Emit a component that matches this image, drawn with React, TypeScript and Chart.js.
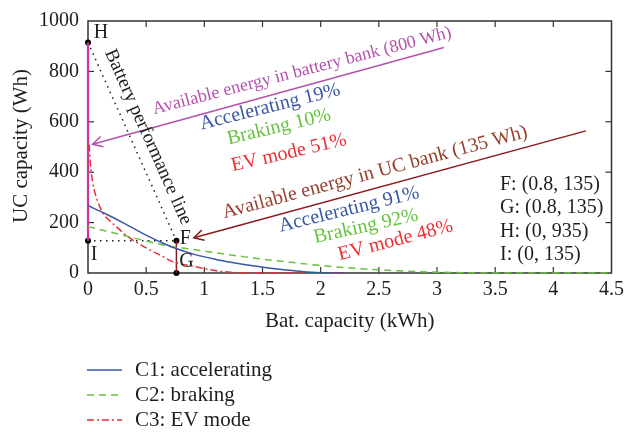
import React, { useEffect, useRef } from 'react';
import { Chart, registerables } from 'chart.js';

Chart.register(...registerables);

const FF = "'Liberation Serif', 'Times New Roman', serif";

// Series C1: accelerating
const c1X = [0, 0.15, 0.32, 0.49, 0.66, 0.75, 0.92, 1.1, 1.24, 1.4, 1.52, 1.7, 1.85, 2.0, 2.1, 2.2];
const c1Y = [267, 235, 195, 152, 115, 98, 73, 54, 42, 30, 22, 12, 5, 1, 0, 0];
// Series C2: braking
const c2X = [0, 0.15, 0.32, 0.49, 0.66, 0.83, 0.92, 1.1, 1.35, 1.52, 1.81, 2.09, 2.38, 2.66, 2.94, 3.17, 3.4, 4.5];
const c2Y = [184, 167, 148, 128, 110, 98, 92, 80, 64, 54, 39, 26, 16, 9, 4, 1.5, 0, 0];
// Series C3: EV mode
const c3X = [0.01, 0.02, 0.04, 0.06, 0.08, 0.1, 0.125, 0.18, 0.24, 0.35, 0.49, 0.64, 0.72, 0.8, 0.92, 1.05, 1.15, 1.25, 1.35, 2.2];
const c3Y = [510, 435, 360, 318, 288, 265, 240, 210, 185, 142, 102, 66, 46, 36, 25, 13, 6, 2, 0, 0];

const seriesNames = ['C1: accelerating', 'C2: braking', 'C3: EV mode'];

// Marked points H, F, G, I
const ptNames = ['H', 'F', 'G', 'I'];
const ptX = [0, 0.76, 0.76, 0];
const ptY = [915, 128, 0, 128];

// Arrows (tail -> tip)
const batArrowX = [3.06, 0.04];
const batArrowY = [895, 511];
const ucArrowX = [4.28, 0.91];
const ucArrowY = [564, 140];

const infoLines = ['F: (0.8, 135)', 'G: (0.8, 135)', 'H: (0, 935)', 'I: (0, 135)'];

const xMin = 0, xMax = 4.5, xStep = 0.5;
const yMin = 0, yMax = 1000, yStep = 200;

const BLUE = '#3A56A6';
const GREEN = '#66C23F';
const RED = '#EC2F35';
const MAGENTA_TXT = '#B451AC';
const MAGENTA_LINE = '#C8339E';
const BROWN_TXT = '#96402C';
const DARKRED = '#8A1A1E';
const INK = '#1E1E1E';

const pts = (xs: number[], ys: number[]) => xs.map((x, i) => ({ x, y: ys[i] }));
const fmt = (v: any) => String(Math.round(Number(v) * 10) / 10);

function App() {
  const ref = useRef<HTMLCanvasElement | null>(null);

  useEffect(() => {
    const canvas = ref.current;
    if (!canvas) return;

    const rotText = (ctx: CanvasRenderingContext2D, text: string, x: number, y: number, deg: number, color: string, size: number, baseline: CanvasTextBaseline = 'middle', align: CanvasTextAlign = 'center') => {
      ctx.save();
      ctx.translate(x, y);
      ctx.rotate((deg * Math.PI) / 180);
      ctx.fillStyle = color;
      ctx.font = `${size}px ${FF}`;
      ctx.textAlign = align;
      ctx.textBaseline = baseline;
      ctx.fillText(text, 0, 0);
      ctx.restore();
    };

    const arrow = (ctx: CanvasRenderingContext2D, x1: number, y1: number, x2: number, y2: number, color: string) => {
      ctx.save();
      ctx.strokeStyle = color;
      ctx.lineWidth = 1.5;
      ctx.setLineDash([]);
      ctx.beginPath();
      ctx.moveTo(x1, y1);
      ctx.lineTo(x2, y2);
      ctx.stroke();
      const a = Math.atan2(y2 - y1, x2 - x1);
      const L = 11, h = 0.5;
      ctx.beginPath();
      ctx.moveTo(x2 - L * Math.cos(a - h), y2 - L * Math.sin(a - h));
      ctx.lineTo(x2, y2);
      ctx.lineTo(x2 - L * Math.cos(a + h), y2 - L * Math.sin(a + h));
      ctx.stroke();
      ctx.restore();
    };

    const deco = {
      id: 'deco',
      beforeDatasetsDraw(chart: any) {
        const { ctx, chartArea, scales } = chart;
        const { left, right, top, bottom } = chartArea;
        const xs = scales.x, ys = scales.y;
        ctx.save();
        ctx.strokeStyle = '#333';
        ctx.lineWidth = 1.5;
        ctx.setLineDash([]);
        ctx.strokeRect(left, top, right - left, bottom - top);
        ctx.lineWidth = 1.2;
        const seg = (a: number, b: number, c: number, d: number) => {
          ctx.beginPath(); ctx.moveTo(a, b); ctx.lineTo(c, d); ctx.stroke();
        };
        xs.ticks.forEach((t: any) => {
          const p = xs.getPixelForValue(t.value);
          if (p <= left + 1 || p >= right - 1) return;
          seg(p, bottom, p, bottom - 6);
          seg(p, top, p, top + 6);
        });
        ys.ticks.forEach((t: any) => {
          const p = ys.getPixelForValue(t.value);
          if (p <= top + 1 || p >= bottom - 1) return;
          seg(left, p, left + 6, p);
          seg(right, p, right - 6, p);
        });
        ctx.restore();
      },
      afterDatasetsDraw(chart: any) {
        const { ctx, chartArea, scales } = chart;
        const xs = scales.x, ys = scales.y;
        const px = (v: number) => xs.getPixelForValue(v);
        const py = (v: number) => ys.getPixelForValue(v);

        // arrows
        arrow(ctx, px(batArrowX[0]), py(batArrowY[0]), px(batArrowX[1]), py(batArrowY[1]), MAGENTA_TXT);
        arrow(ctx, px(ucArrowX[0]), py(ucArrowY[0]), px(ucArrowX[1]), py(ucArrowY[1]), DARKRED);

        // upper annotation group
        rotText(ctx, 'Available energy in battery bank (800 Wh)', 302, 71, -14.5, MAGENTA_TXT, 18);
        rotText(ctx, 'Accelerating 19%', 270, 107, -14, BLUE, 20);
        rotText(ctx, 'Braking 10%', 279, 127, -13.5, GREEN, 20);
        rotText(ctx, 'EV mode 51%', 289, 153, -13, RED, 20);

        // lower annotation group
        rotText(ctx, 'Available energy in UC bank (135 Wh)', 375, 172.5, -15, BROWN_TXT, 20);
        rotText(ctx, 'Accelerating 91%', 349, 209.5, -13.7, BLUE, 20);
        rotText(ctx, 'Braking 92%', 366, 226.5, -12.5, GREEN, 20);
        rotText(ctx, 'EV mode 48%', 395.5, 240.5, -14.5, RED, 20);

        // battery performance line label
        rotText(ctx, 'Battery performance line', 148, 137, 66, INK, 19);

        // point labels
        const offs = [[13, -10], [9, -2], [10, -11], [6, 14]];
        ptNames.forEach((n, i) => {
          rotText(ctx, n, px(ptX[i]) + offs[i][0], py(ptY[i]) + offs[i][1], 0, INK, 20);
        });

        // info block
        infoLines.forEach((s, i) => {
          rotText(ctx, s, 500, 190 + i * 23.3, 0, INK, 20, 'alphabetic', 'left');
        });

        // axis titles
        const cx = (chartArea.left + chartArea.right) / 2;
        rotText(ctx, 'Bat. capacity (kWh)', cx, 327, 0, INK, 21, 'alphabetic');
        rotText(ctx, 'UC capacity (Wh)', 27, 146, -90, INK, 21, 'alphabetic');

        // legend
        const styles = [
          { c: BLUE, d: [] as number[] },
          { c: GREEN, d: [7, 5] },
          { c: RED, d: [7, 3, 2, 3] },
        ];
        seriesNames.forEach((name, i) => {
          const yy = 370 + i * 25;
          ctx.save();
          ctx.strokeStyle = styles[i].c;
          ctx.lineWidth = 1.5;
          ctx.setLineDash(styles[i].d);
          ctx.beginPath();
          ctx.moveTo(87, yy);
          ctx.lineTo(122, yy);
          ctx.stroke();
          ctx.restore();
          rotText(ctx, name, 135, yy, 0, INK, 21, 'middle', 'left');
        });
      },
    };

    const chart = new Chart(canvas, {
      type: 'scatter',
      data: {
        datasets: [
          {
            label: seriesNames[0], data: pts(c1X, c1Y), showLine: true, borderColor: BLUE, borderWidth: 1.5,
            pointRadius: 0, cubicInterpolationMode: 'monotone', fill: false,
          },
          {
            label: seriesNames[1], data: pts(c2X, c2Y), showLine: true, borderColor: GREEN, borderWidth: 1.5,
            borderDash: [7, 5], pointRadius: 0, cubicInterpolationMode: 'monotone', fill: false, clip: 2,
          },
          {
            label: seriesNames[2], data: pts(c3X, c3Y), showLine: true, borderColor: RED, borderWidth: 1.5,
            borderDash: [7, 3, 2, 3], pointRadius: 0, cubicInterpolationMode: 'monotone', fill: false, clip: 2,
          },
          {
            label: 'HI', data: pts([ptX[0], ptX[3]], [ptY[0], ptY[3]]), showLine: true, borderColor: MAGENTA_LINE,
            borderWidth: 2.2, pointRadius: 0, clip: 4,
          },
          {
            label: 'HF', data: pts([ptX[0], ptX[1]], [ptY[0], ptY[1]]), showLine: true, borderColor: INK,
            borderWidth: 1.5, borderDash: [1.5, 4.5], pointRadius: 0,
          },
          {
            label: 'IF', data: pts([ptX[3], ptX[1]], [ptY[3], ptY[1]]), showLine: true, borderColor: INK,
            borderWidth: 1.5, borderDash: [1.5, 4.5], pointRadius: 0,
          },
          {
            label: 'FG', data: pts([ptX[1], ptX[2]], [ptY[1], ptY[2]]), showLine: true, borderColor: DARKRED,
            borderWidth: 1.5, pointRadius: 0,
          },
          {
            label: 'pts', data: pts(ptX, ptY), showLine: false, pointRadius: 3, pointBackgroundColor: '#000',
            pointBorderColor: '#000', borderWidth: 0, clip: false as any,
          },
        ] as any,
      },
      options: {
        animation: false,
        responsive: false,
        devicePixelRatio: 1,
        layout: { padding: { left: 0, top: 16, right: 13, bottom: 0 } },
        plugins: { legend: { display: false }, tooltip: { enabled: false } },
        scales: {
          x: {
            type: 'linear', min: xMin, max: xMax,
            grid: { display: false, drawTicks: false },
            border: { display: false },
            ticks: { stepSize: xStep, padding: 5, color: INK, font: { family: FF, size: 20 }, maxRotation: 0, callback: fmt },
            afterFit: (s: any) => { s.height = 161; },
          },
          y: {
            type: 'linear', min: yMin, max: yMax,
            grid: { display: false, drawTicks: false },
            border: { display: false },
            ticks: { stepSize: yStep, padding: 9, color: INK, font: { family: FF, size: 20 }, callback: fmt },
            afterFit: (s: any) => { s.width = 88; },
          },
        },
      } as any,
      plugins: [deco],
    });

    return () => chart.destroy();
  }, []);

  return (
    <div style={{ position: 'absolute', left: 0, top: 0, width: 629, height: 434, background: '#fff' }}>
      <canvas ref={ref} width={629} height={434} style={{ display: 'block', width: 629, height: 434 }} />
    </div>
  );
}

export default App;
